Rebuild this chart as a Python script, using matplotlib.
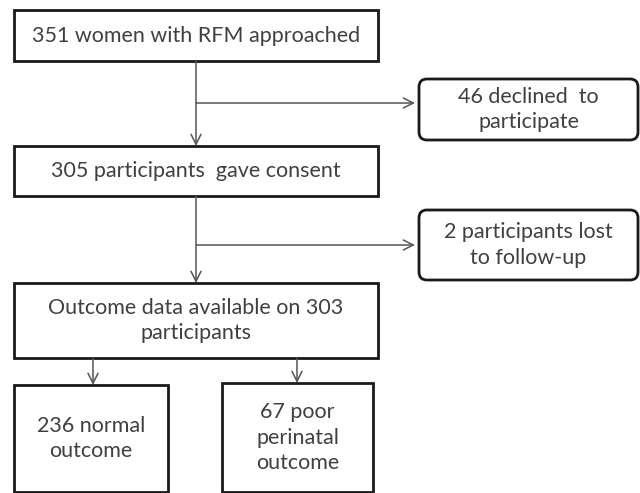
import matplotlib.pyplot as plt
from matplotlib.patches import Rectangle, FancyBboxPatch

plt.rcParams['font.family'] = ['Lato', 'DejaVu Sans']

# box labels
main_labels = ['351 women with RFM approached',
               '305 participants  gave consent',
               'Outcome data available on 303\nparticipants']
side_labels = ['46 declined  to\nparticipate',
               '2 participants lost\nto follow-up']
leaf_labels = ['236 normal\noutcome',
               '67 poor\nperinatal\noutcome']

# box geometry in pixels (x0, y0, x1, y1)
main_boxes = [(14, 10, 378, 61), (14, 146, 378, 196), (14, 283, 378, 358)]
side_boxes = [(419, 79, 638, 140), (419, 210, 638, 280)]
leaf_boxes = [(14, 385, 168, 492), (222, 383, 373, 492)]
branch_y = [103, 245]
trunk_x = 196
leaf_x = [93, 297]

txt_col = '#404040'
line_col = '#555555'
fs = 15.5

fig = plt.figure(figsize=(6.4, 4.93), dpi=100)
ax = fig.add_axes([0, 0, 1, 1])
ax.set_xlim(0, 640)
ax.set_ylim(493, 0)
ax.axis('off')

def box(b, rounded=False):
    x0, y0, x1, y1 = b
    if rounded:
        p = FancyBboxPatch((x0 + 8, y0 + 8), x1 - x0 - 16, y1 - y0 - 16,
                           boxstyle='round,pad=8', fc='white', ec='#1a1a1a', lw=2)
    else:
        p = Rectangle((x0, y0), x1 - x0, y1 - y0, fc='white', ec='#1a1a1a', lw=2)
    ax.add_patch(p)

def arrow(x0, y0, x1, y1):
    ax.annotate('', xy=(x1, y1), xytext=(x0, y0),
                arrowprops=dict(arrowstyle='->', color=line_col, lw=1.1,
                                mutation_scale=18, shrinkA=0, shrinkB=0))

for b, t in zip(main_boxes, main_labels):
    box(b)
    ax.text((b[0] + b[2]) / 2, (b[1] + b[3]) / 2, t, ha='center', va='center',
            fontsize=fs, color=txt_col, linespacing=1.33)

for b, t in zip(side_boxes, side_labels):
    box(b, rounded=True)
    ax.text((b[0] + b[2]) / 2, (b[1] + b[3]) / 2, t, ha='center', va='center',
            fontsize=fs, color=txt_col, linespacing=1.33)

for b, t in zip(leaf_boxes, leaf_labels):
    box(b)
    ax.text((b[0] + b[2]) / 2, (b[1] + b[3]) / 2, t, ha='center', va='center',
            fontsize=fs, color=txt_col, linespacing=1.33)

# trunk arrows between main boxes
for i in range(2):
    arrow(trunk_x, main_boxes[i][3], trunk_x, main_boxes[i + 1][1])
    arrow(trunk_x, branch_y[i], side_boxes[i][0] - 4, branch_y[i])

# arrows to outcome boxes
for x, b in zip(leaf_x, leaf_boxes):
    arrow(x, main_boxes[2][3], x, b[1])

fig.savefig('out.png', dpi=100)
